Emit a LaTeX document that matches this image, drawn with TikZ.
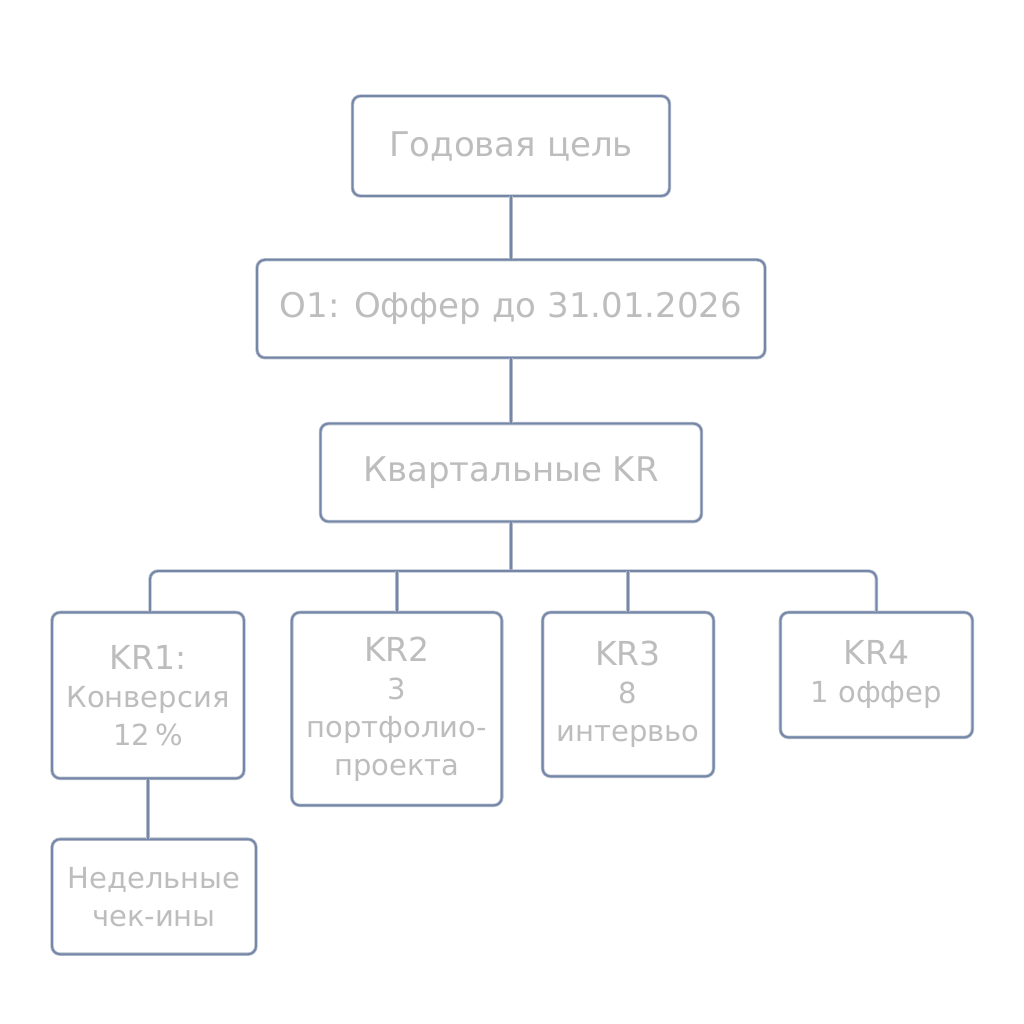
\documentclass[tikz,border=0pt]{standalone}
\usepackage{fontspec}
\setmainfont{DejaVu Sans}
\usetikzlibrary{positioning,calc}
\definecolor{slate}{HTML}{7587A8}
\definecolor{rim}{HTML}{B4BCCA}
\definecolor{ghost}{HTML}{BDBDBD}
\newcommand{\hd}{\fontsize{34pt}{40pt}\selectfont}
\newcommand{\krf}{\fontsize{29pt}{38pt}\selectfont}
\newcommand{\krt}[1]{{\fontsize{33pt}{40pt}\selectfont #1}}
\tikzset{
  card/.style={draw=rim, double=slate, double distance=1.8pt, line width=0.8pt,
    rounded corners=8pt, fill=white, align=center, inner sep=4pt, text=ghost},
  link/.style={draw=rim, double=slate, double distance=1.8pt, line width=0.8pt},
}
\begin{document}
\begin{tikzpicture}[x=1pt, y=1pt]
    \useasboundingbox[fill=white] (0,0) rectangle (1024,1024);
    \tikzset{top/.style={card, font=\hd, minimum height=98pt},
      krbox/.style={card, font=\krf}}
    \node[top, minimum width=317pt, minimum height=100pt] (goal) at (511,878) {Годовая цель};
    \node[top, minimum width=508pt, below=63pt of goal] (obj) {O1: Оффер до 31.01.2026};
    \node[top, minimum width=381pt, below=65pt of obj] (qkr) {Квартальные KR};
    % key results
    \node[krbox, minimum width=192pt, minimum height=166pt, anchor=north] (kr1) at (148,412)
      {\krt{KR1:}\\Конверсия\\12\,\%};
    \node[krbox, minimum width=210pt, minimum height=193pt, right=47pt of kr1.north east, anchor=north west] (kr2)
      {\krt{KR2}\\3\\портфолио-\\проекта};
    \node[krbox, minimum width=171pt, minimum height=164pt, right=40pt of kr2.north east, anchor=north west] (kr3)
      {\krt{KR3}\\8\\интервьо};
    \node[krbox, minimum width=192pt, minimum height=125pt, right=66pt of kr3.north east, anchor=north west] (kr4)
      {\krt{KR4}\\1 оффер};
    \node[krbox, minimum width=204pt, minimum height=115pt, below=60pt of kr1.south west, anchor=north west] (week)
      {Недельные\\чек-ины};
    \coordinate (bus) at (511,453);
    \draw[link] (goal) -- (obj);
    \draw[link] (obj) -- (qkr);
    \draw[link] (qkr.south) -- (qkr.south |- bus);
    \draw[link, rounded corners=8pt] (kr1.north -| 150,0) |- (bus) -| (kr4.north);
    \foreach \k in {kr2,kr3} \draw[link] (\k.north) -- (\k.north |- bus);
    \draw[link] (kr1) -- (week.north -| kr1);
\end{tikzpicture}
\end{document}
